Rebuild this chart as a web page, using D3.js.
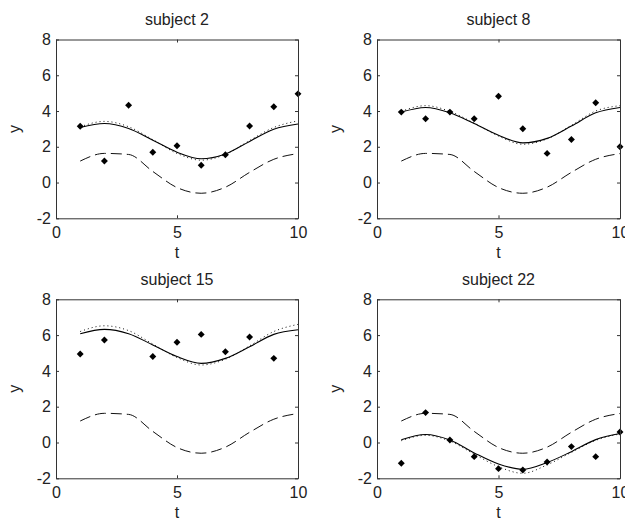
<!DOCTYPE html>
<html>
<head>
<meta charset="utf-8">
<script src="https://cdn.jsdelivr.net/npm/d3@7"></script>
<style>
  html, body { margin: 0; padding: 0; background: #fff; }
  svg { display: block; }
  text { font-family: "Liberation Sans", Arial, sans-serif; fill: #222; }
</style>
</head>
<body>
<svg id="chart" width="625" height="520"></svg>
<script>
// ---- data ----
const tValues = [1, 2, 3, 4, 5, 6, 7, 8, 9, 10];
const xTicks = [0, 5, 10];
const yTicks = [-2, 0, 2, 4, 6, 8];
const titles = ["subject 2", "subject 8", "subject 15", "subject 22"];

// population mean curve (dashed), same in all panels
const popMean = [1.2, 1.63, 1.57, 0.62, -0.28, -0.6, -0.26, 0.57, 1.3, 1.62];

// subject 2
const obs2 = [3.15, 1.2, 4.32, 1.69, 2.06, 0.97, 1.55, 3.16, 4.24, 4.96];
const fit2 = [3.08, 3.3, 3.02, 2.37, 1.7, 1.33, 1.6, 2.3, 2.98, 3.27];
const alt2 = [3.12, 3.42, 3.12, 2.4, 1.63, 1.25, 1.57, 2.35, 3.08, 3.45];

// subject 8
const obs8 = [3.94, 3.57, 3.94, 3.57, 4.83, 3.01, 1.63, 2.41, 4.46, 2.0];
const fit8 = [3.94, 4.2, 3.9, 3.3, 2.65, 2.22, 2.47, 3.16, 3.9, 4.2];
const alt8 = [3.98, 4.3, 3.98, 3.32, 2.6, 2.14, 2.44, 3.2, 4.0, 4.3];

// subject 15 (no observation at t=3 and t=10)
const obs15 = [4.94, 5.73, null, 4.8, 5.6, 6.04, 5.07, 5.89, 4.7, null];
const fit15 = [6.08, 6.32, 6.08, 5.45, 4.8, 4.42, 4.7, 5.35, 6.04, 6.3];
const alt15 = [6.2, 6.52, 6.25, 5.5, 4.75, 4.33, 4.65, 5.4, 6.2, 6.6];

// subject 22
const obs22 = [-1.16, 1.67, 0.14, -0.79, -1.46, -1.54, -1.09, -0.23, -0.79, 0.59];
const fit22 = [0.15, 0.45, 0.14, -0.58, -1.2, -1.5, -1.12, -0.51, 0.16, 0.5];
const alt22 = [0.1, 0.4, 0.08, -0.65, -1.35, -1.72, -1.25, -0.55, 0.12, 0.48];

// ---- layout ----
const panels = [
  { title: titles[0], obs: obs2,  fit: fit2,  alt: alt2,  left: 56,  right: 298, top: 39.5,  bottom: 218.3 },
  { title: titles[1], obs: obs8,  fit: fit8,  alt: alt8,  left: 377, right: 620, top: 39.5,  bottom: 218.3 },
  { title: titles[2], obs: obs15, fit: fit15, alt: alt15, left: 56,  right: 298, top: 299.3, bottom: 478.3 },
  { title: titles[3], obs: obs22, fit: fit22, alt: alt22, left: 377, right: 620, top: 299.3, bottom: 478.3 }
];

const svg = d3.select("#chart");
const axisColor = "#333";
const fmt = d => String(d);

panels.forEach(p => {
  const x = d3.scaleLinear().domain([0, 10]).range([p.left, p.right]);
  const y = d3.scaleLinear().domain([-2, 8]).range([p.bottom, p.top]);
  const g = svg.append("g");

  const line = d3.line()
    .x(d => x(d.t)).y(d => y(d.v))
    .curve(d3.curveMonotoneX);
  const toPts = arr => tValues.map((t, i) => ({ t, v: arr[i] })).filter(d => d.v != null);

  // curves
  g.append("path").datum(toPts(popMean)).attr("d", line)
    .attr("fill", "none").attr("stroke", "#111").attr("stroke-width", 1)
    .attr("stroke-dasharray", "11,5");
  g.append("path").datum(toPts(p.alt)).attr("d", line)
    .attr("fill", "none").attr("stroke", "#111").attr("stroke-width", 1)
    .attr("stroke-dasharray", "1,3");
  g.append("path").datum(toPts(p.fit)).attr("d", line)
    .attr("fill", "none").attr("stroke", "#000").attr("stroke-width", 1.1);

  // observations (filled diamonds)
  g.selectAll(".pt").data(toPts(p.obs)).enter().append("path")
    .attr("d", d3.symbol().type(d3.symbolSquare).size(24))
    .attr("transform", d => `translate(${x(d.t)},${y(d.v)}) rotate(45)`)
    .attr("fill", "#000");

  // axes
  const ax = (axis, tr) => {
    const a = g.append("g").attr("transform", tr).call(axis);
    a.select(".domain").attr("stroke", axisColor);
    a.selectAll(".tick line").attr("stroke", axisColor);
    a.selectAll("text").attr("font-size", 16).attr("fill", "#222")
      .attr("font-family", "'Liberation Sans', Arial, sans-serif");
    return a;
  };
  ax(d3.axisBottom(x).tickValues(xTicks).tickFormat(fmt)
       .tickSizeInner(-3).tickSizeOuter(0).tickPadding(8),
     `translate(0,${p.bottom})`);
  ax(d3.axisTop(x).tickValues(xTicks).tickFormat("")
       .tickSizeInner(-3).tickSizeOuter(0),
     `translate(0,${p.top})`);
  ax(d3.axisLeft(y).tickValues(yTicks).tickFormat(fmt)
       .tickSizeInner(-3).tickSizeOuter(0).tickPadding(5),
     `translate(${p.left},0)`);
  ax(d3.axisRight(y).tickValues(yTicks).tickFormat("")
       .tickSizeInner(-3).tickSizeOuter(0),
     `translate(${p.right},0)`);

  const cx = (p.left + p.right) / 2;
  const cy = (p.top + p.bottom) / 2;
  // title
  g.append("text").attr("x", cx).attr("y", p.top - 14.5)
    .attr("text-anchor", "middle").attr("font-size", 16).text(p.title);
  // x label
  g.append("text").attr("x", cx).attr("y", p.bottom + 40)
    .attr("text-anchor", "middle").attr("font-size", 16).text("t");
  // y label
  g.append("text")
    .attr("transform", `translate(${p.left - 36},${cy}) rotate(-90)`)
    .attr("text-anchor", "middle").attr("font-size", 16).text("y");
});
</script>
</body>
</html>
